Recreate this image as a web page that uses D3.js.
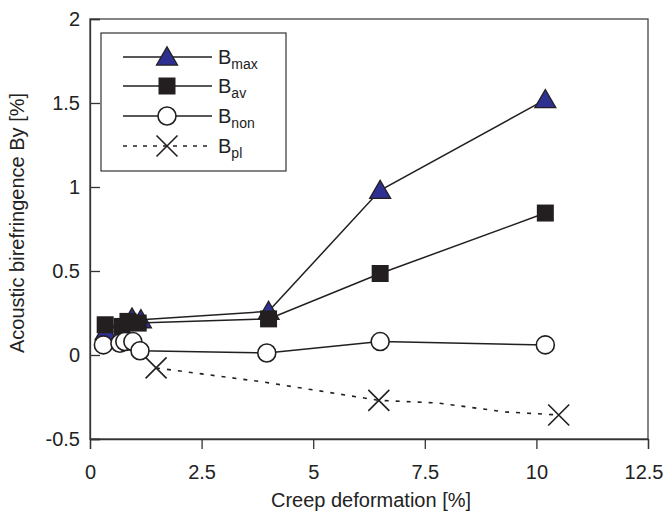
<!DOCTYPE html>
<html><head><meta charset="utf-8">
<script src="https://cdn.jsdelivr.net/npm/d3@7"></script>
<style>
body{margin:0;background:#fff;}
svg{display:block;font-family:"Liberation Sans",Arial,sans-serif;}
</style></head>
<body><svg id="c" width="665" height="516"></svg>
<script>
// ---- data ----
const xTicks = [0, 2.5, 5, 7.5, 10, 12.5];
const yTicks = [-0.5, 0, 0.5, 1, 1.5, 2];
const xTickLabels = ["0", "2.5", "5", "7.5", "10", "12.5"];
const yTickLabels = ["-0.5", "0", "0.5", "1", "1.5", "2"];

const bmaxX = [0.35, 0.94, 1.14, 4.0, 6.5, 10.2];
const bmaxY = [0.14, 0.22, 0.21, 0.26, 0.98, 1.52];
const bavX = [0.34, 0.72, 0.85, 1.08, 4.0, 6.5, 10.2];
const bavY = [0.18, 0.17, 0.20, 0.19, 0.215, 0.485, 0.845];
const bnonX = [0.30, 0.67, 0.78, 0.96, 1.12, 3.96, 6.5, 10.2];
const bnonY = [0.06, 0.07, 0.08, 0.08, 0.025, 0.012, 0.08, 0.06];
const bplX = [1.48, 3.87, 6.47, 7.8, 9.3, 10.5];
const bplY = [-0.077, -0.16, -0.27, -0.286, -0.339, -0.357];
const bplMarker = [true, false, true, false, false, true];

const legendNames = [["B","max"],["B","av"],["B","non"],["B","pl"]];
const xTitle = "Creep deformation [%]";
const yTitle = "Acoustic birefringence By [%]";

// ---- layout ----
const L = 90, R = 648, T = 19, B = 439;
const svg = d3.select("#c");
const x = d3.scaleLinear().domain([0, 12.5]).range([L, R]);
const y = d3.scaleLinear().domain([-0.5, 2]).range([B, T]);
const ink = "#231f20";
const FS = 20;

// frame
svg.append("rect").attr("x", L).attr("y", T).attr("width", R - L).attr("height", B - T)
  .attr("fill", "none").attr("stroke", "#444").attr("stroke-width", 1.3);

// axes
const xAxis = d3.axisBottom(x).tickValues(xTicks).tickSize(10).tickPadding(16)
  .tickFormat((d, i) => xTickLabels[i]);
const gx = svg.append("g").attr("transform", `translate(0,${B})`).call(xAxis);
const yAxis = d3.axisLeft(y).tickValues(yTicks).tickSize(-10).tickPadding(10)
  .tickFormat((d, i) => yTickLabels[i]);
const gy = svg.append("g").attr("transform", `translate(${L},0)`).call(yAxis);
[gx, gy].forEach(g => {
  g.select(".domain").attr("stroke", "#333").attr("stroke-width", 1.3);
  g.selectAll(".tick line").attr("stroke", "#333").attr("stroke-width", 1.3);
  g.selectAll(".tick text").attr("fill", "#222").attr("font-size", FS)
    .attr("font-family", "'Liberation Sans',Arial,sans-serif");
});
gy.selectAll(".tick text").attr("x", -10);
// keep the last x label inside the page
gx.selectAll(".tick text").filter(d => d === 12.5).attr("text-anchor", "end").attr("x", 15);

svg.append("text").attr("x", (L + R) / 2 + 2).attr("y", 507).attr("text-anchor", "middle")
  .attr("font-size", FS).attr("fill", "#222").text(xTitle);
svg.append("text").attr("transform", `translate(24,${(T + B) / 2 - 6}) rotate(-90)`)
  .attr("text-anchor", "middle").attr("font-size", FS).attr("fill", "#222").text(yTitle);

// lines
const line = d3.line().x(d => x(d[0])).y(d => y(d[1]));
const zip = (a, b) => a.map((v, i) => [v, b[i]]);
const series = [
  {xs: bmaxX, ys: bmaxY, type: "tri", dash: null},
  {xs: bavX, ys: bavY, type: "sq", dash: null},
  {xs: bnonX, ys: bnonY, type: "circ", dash: null},
  {xs: bplX, ys: bplY, type: "x", dash: "4,7", mk: bplMarker}
];

const triPath = d3.symbol().type(d3.symbolTriangle).size(190)();
const sqPath = d3.symbol().type(d3.symbolSquare).size(289)();
function drawMarker(g, type, px, py) {
  if (type === "tri") {
    g.append("path").attr("d", triPath).attr("transform", `translate(${px},${py + 2})`)
      .attr("fill", "#2e3192").attr("stroke", ink).attr("stroke-width", 1.3);
  } else if (type === "sq") {
    g.append("path").attr("d", sqPath).attr("transform", `translate(${px},${py})`)
      .attr("fill", ink);
  } else if (type === "circ") {
    g.append("circle").attr("cx", px).attr("cy", py).attr("r", 9)
      .attr("fill", "#fff").attr("stroke", ink).attr("stroke-width", 1.6);
  } else {
    const h = 10.5;
    g.append("path").attr("d", `M${px - h},${py - h}L${px + h},${py + h}M${px - h},${py + h}L${px + h},${py - h}`)
      .attr("stroke", ink).attr("stroke-width", 1.6).attr("fill", "none");
  }
}

series.forEach(s => {
  const g = svg.append("g");
  const pts = zip(s.xs, s.ys);
  g.append("path").attr("d", line(pts)).attr("fill", "none").attr("stroke", ink)
    .attr("stroke-width", s.dash ? 1.6 : 1.5).attr("stroke-dasharray", s.dash);
  pts.forEach((p, i) => {
    if (s.mk && !s.mk[i]) return;
    drawMarker(g, s.type, x(p[0]), y(p[1]));
  });
});

// legend
const lg = svg.append("g");
lg.append("rect").attr("x", 101).attr("y", 33).attr("width", 185).attr("height", 138)
  .attr("fill", "#fff").attr("stroke", "#333").attr("stroke-width", 1.2);
const rowsY = [57, 86, 116, 146];
series.forEach((s, i) => {
  const yy = rowsY[i];
  lg.append("line").attr("x1", 123).attr("x2", 212).attr("y1", yy).attr("y2", yy)
    .attr("stroke", ink).attr("stroke-width", s.dash ? 1.6 : 1.5).attr("stroke-dasharray", s.dash ? "4,6" : null);
  drawMarker(lg, s.type, 167, yy);
  const t = lg.append("text").attr("x", 218).attr("y", yy + 7).attr("font-size", 20).attr("fill", "#222");
  t.append("tspan").text(legendNames[i][0]);
  t.append("tspan").attr("font-size", 14).attr("dy", 5).text(legendNames[i][1]);
});
</script></body></html>
